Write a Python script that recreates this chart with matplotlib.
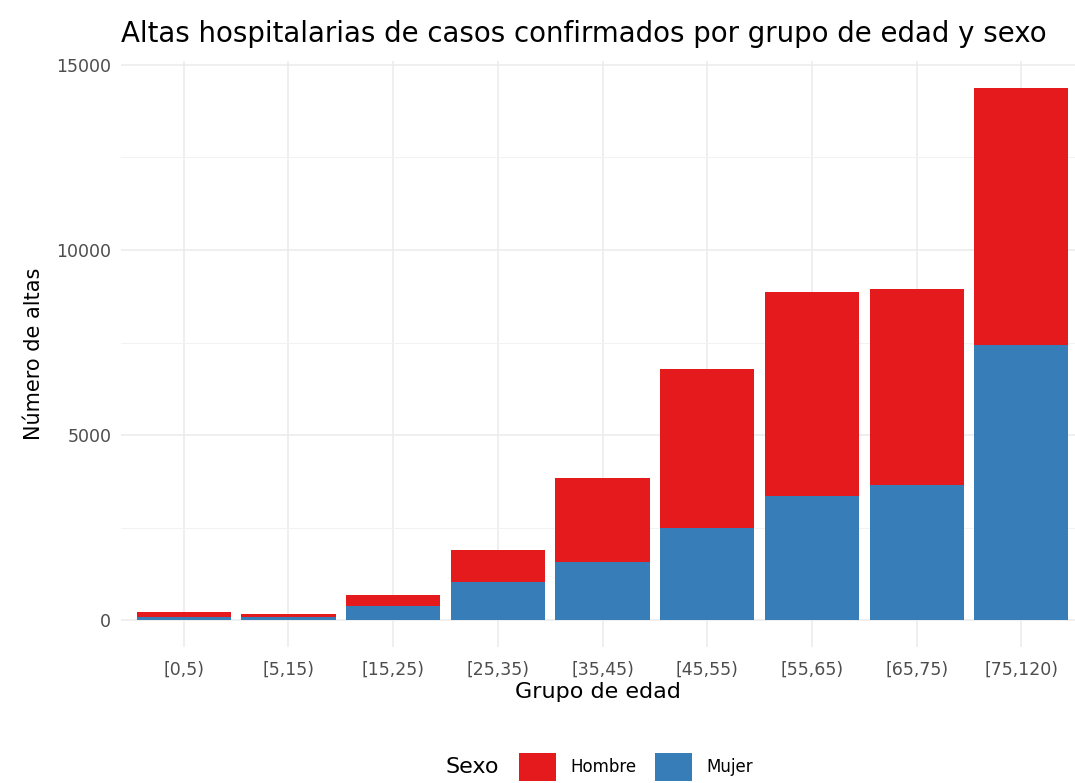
import matplotlib
matplotlib.use("Agg")
import matplotlib.pyplot as plt
from matplotlib.patches import Patch
import numpy as np

plt.rcParams['font.family'] = ['DejaVu Sans']

categories = ["[0,5)", "[5,15)", "[15,25)", "[25,35)", "[35,45)", "[45,55)", "[55,65)", "[65,75)", "[75,120)"]
mujer = [100, 80, 390, 1035, 1575, 2490, 3360, 3665, 7425]
total = [215, 165, 680, 1910, 3845, 6800, 8865, 8955, 14385]
hombre = [t - m for t, m in zip(total, mujer)]
yticks = [0, 5000, 10000, 15000]

red = "#E41A1C"
blue = "#377EB8"

W, H = 1075, 783
fig = plt.figure(figsize=(W / 100, H / 100), dpi=100)
left_px, right_px = 121, 1075
top_px, bot_px = 61, 647
ax = fig.add_axes([left_px / W, 1 - bot_px / H, (right_px - left_px) / W, (bot_px - top_px) / H])

x = np.arange(len(categories))
ax.bar(x, mujer, width=0.9, color=blue, zorder=3)
ax.bar(x, hombre, width=0.9, bottom=mujer, color=red, zorder=3)

ax.set_xlim(-0.6, (right_px - 183.7) / 104.7)
ymax = max(total)
ax.set_ylim(-0.05 * ymax, 1.05 * ymax)

ax.set_yticks(yticks)
ax.set_yticklabels([str(v) for v in yticks])
ax.set_yticks([2500, 7500, 12500], minor=True)
ax.set_xticks(x)
ax.set_xticklabels(categories)

ax.grid(which='major', color='#EBEBEB', linewidth=1.1, zorder=0)
ax.grid(which='minor', axis='y', color='#F2F2F2', linewidth=0.7, zorder=0)
for s in ax.spines.values():
    s.set_visible(False)
ax.tick_params(which='both', length=0)
ax.tick_params(axis='both', labelsize=12.5, labelcolor='#4D4D4D')
ax.tick_params(axis='x', pad=10)
ax.tick_params(axis='y', pad=7)

ax.set_xlabel("Grupo de edad", fontsize=16, color='black', labelpad=2)
ax.set_ylabel("Número de altas", fontsize=15, color='black', labelpad=9)

fig.text(left_px / W, 1 - 34 / H, "Altas hospitalarias de casos confirmados por grupo de edad y sexo",
         fontsize=19.9, ha='left', va='center', color='black')

fig.text(472 / W, 1 - 767 / H, "Sexo", fontsize=16, ha='center', va='center')
handles = [Patch(facecolor=red, edgecolor='none', label='Hombre'),
           Patch(facecolor=blue, edgecolor='none', label='Mujer')]
fig.legend(handles=handles, loc='center left', bbox_to_anchor=(511 / W, 1 - 767 / H),
           ncol=2, frameon=False, fontsize=12, handlelength=2.2, handleheight=2.2,
           handletextpad=0.85, columnspacing=1.15, borderpad=0)

fig.savefig("out.png", dpi=100, facecolor='white')
